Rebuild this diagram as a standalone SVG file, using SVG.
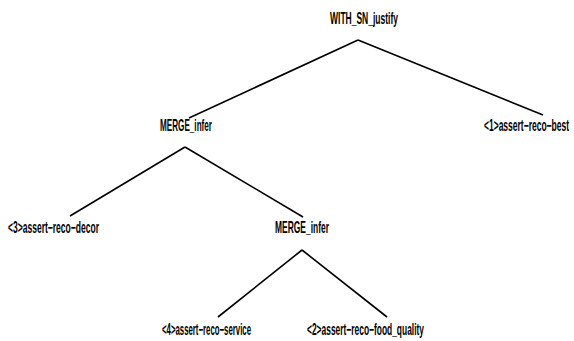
<svg xmlns="http://www.w3.org/2000/svg" width="574" height="341" viewBox="0 0 574 341">
<style>
.t{font-family:"Liberation Sans",Arial,sans-serif;font-weight:bold;font-size:16px;fill:#000;}
.e{stroke:#000;stroke-width:1.6;fill:none;}
</style>
<rect width="574" height="341" fill="#fff"/>
<g id="edges">
<line class="e" x1="358" y1="40" x2="189" y2="118"/>
<line class="e" x1="358" y1="40" x2="543" y2="115"/>
<line class="e" x1="185" y1="147" x2="70" y2="216"/>
<line class="e" x1="185" y1="147" x2="303" y2="217"/>
<line class="e" x1="302" y1="250" x2="218" y2="317"/>
<line class="e" x1="302" y1="250" x2="387" y2="317"/>
</g>
<g id="n0" transform="translate(330,24) scale(0.6,1)"><text class="t" x="0" y="0" textLength="113.3" lengthAdjust="spacingAndGlyphs">WITH_SN_justify</text></g>
<g id="n1" transform="translate(160,131) scale(0.6,1)"><text class="t" x="0" y="0" textLength="86.7" lengthAdjust="spacingAndGlyphs">MERGE_infer</text></g>
<g id="n2" transform="translate(484,131) scale(0.5,1)"><text class="t" x="0" y="0" textLength="170" lengthAdjust="spacingAndGlyphs">&lt;1&gt;assert−reco−best</text></g>
<g id="n3" transform="translate(8,233) scale(0.6,1)"><text class="t" x="0" y="0" textLength="151.7" lengthAdjust="spacingAndGlyphs">&lt;3&gt;assert−reco−decor</text></g>
<g id="n4" transform="translate(275,233) scale(0.6,1)"><text class="t" x="0" y="0" textLength="90" lengthAdjust="spacingAndGlyphs">MERGE_infer</text></g>
<g id="n5" transform="translate(162,335) scale(0.6,1)"><text class="t" x="0" y="0" textLength="148.3" lengthAdjust="spacingAndGlyphs">&lt;4&gt;assert−reco−service</text></g>
<g id="n6" transform="translate(307,335) scale(0.6,1)"><text class="t" x="0" y="0" textLength="195" lengthAdjust="spacingAndGlyphs">&lt;2&gt;assert−reco−food_quality</text></g>
</svg>
